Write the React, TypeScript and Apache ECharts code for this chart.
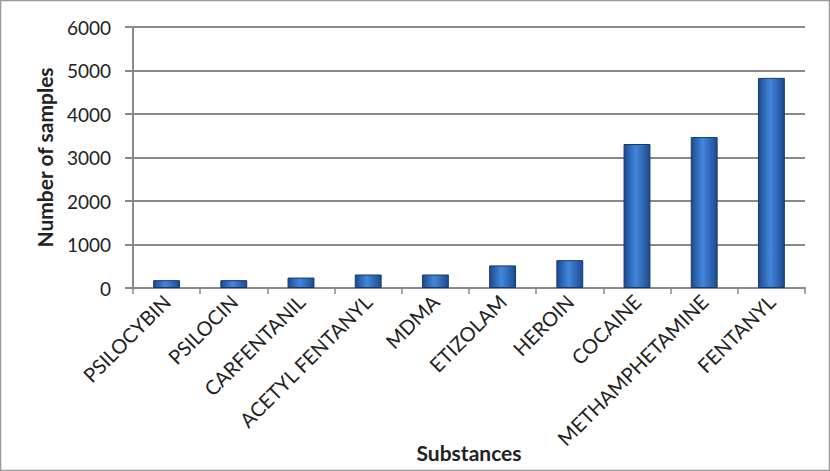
import React, { useEffect, useRef } from "react";
import * as echarts from "echarts";

const categories = [
  "PSILOCYBIN",
  "PSILOCIN",
  "CARFENTANIL",
  "ACETYL FENTANYL",
  "MDMA",
  "ETIZOLAM",
  "HEROIN",
  "COCAINE",
  "METHAMPHETAMINE",
  "FENTANYL",
];
const samples = [180, 180, 240, 310, 310, 520, 640, 3310, 3470, 4830];
const yTicks = { min: 0, max: 6000, interval: 1000 };

export default function App() {
  const ref = useRef<HTMLDivElement>(null);
  useEffect(() => {
    if (!ref.current) return;
    const chart = echarts.init(ref.current, undefined, { renderer: "svg" });
    const font = "Lato, 'Noto Sans', sans-serif";
    chart.setOption({
      animation: false,
      backgroundColor: "#ffffff",
      textStyle: { fontFamily: font },
      grid: {
        left: 133,
        right: 25,
        top: 27,
        bottom: 183,
        containLabel: false,
        outerBoundsMode: "none",
      },
      graphic: [
        {
          type: "rect",
          shape: { x: 0.5, y: 0.5, width: 829, height: 470 },
          style: { fill: "none", stroke: "#9a9a9a", lineWidth: 1.5 },
          silent: true,
        },
      ],
      xAxis: {
        type: "category",
        data: categories,
        boundaryGap: true,
        name: "Substances",
        nameLocation: "middle",
        nameGap: 154,
        nameMoveOverlap: false,
        nameTextStyle: { fontFamily: font, fontSize: 21, fontWeight: "bold", color: "#222" },
        axisLine: { lineStyle: { color: "#8a8a8a", width: 2 } },
        axisTick: { show: true, alignWithLabel: false, length: 6, lineStyle: { color: "#8a8a8a", width: 1.5 } },
        axisLabel: { rotate: 45, interval: 0, fontFamily: font, fontSize: 20, color: "#222", margin: 10 },
      },
      yAxis: {
        type: "value",
        min: yTicks.min,
        max: yTicks.max,
        interval: yTicks.interval,
        name: "Number of samples",
        nameLocation: "middle",
        nameGap: 78,
        nameMoveOverlap: false,
        nameTextStyle: { fontFamily: font, fontSize: 21, fontWeight: "bold", color: "#222" },
        axisLine: { show: true, lineStyle: { color: "#8a8a8a", width: 2 } },
        axisTick: { show: true, length: 8, lineStyle: { color: "#8a8a8a", width: 2 } },
        axisLabel: {
          fontFamily: font,
          fontSize: 19,
          color: "#222",
          margin: 22,
          formatter: (v: number) => String(v),
        },
        splitLine: { show: true, lineStyle: { color: "#8a8a8a", width: 2 } },
      },
      series: [
        {
          type: "bar",
          data: samples,
          barWidth: "40%",
          itemStyle: {
            color: new echarts.graphic.LinearGradient(0, 0, 1, 0, [
              { offset: 0, color: "#1d4a8f" },
              { offset: 0.45, color: "#4287dc" },
              { offset: 1, color: "#1d4a8f" },
            ]),
            borderColor: "#17386e",
            borderWidth: 1,
          },
        },
      ],
    });
    return () => chart.dispose();
  }, []);
  return (
    <div
      ref={ref}
      style={{ position: "fixed", left: 0, top: 0, width: 830, height: 471 }}
    />
  );
}
